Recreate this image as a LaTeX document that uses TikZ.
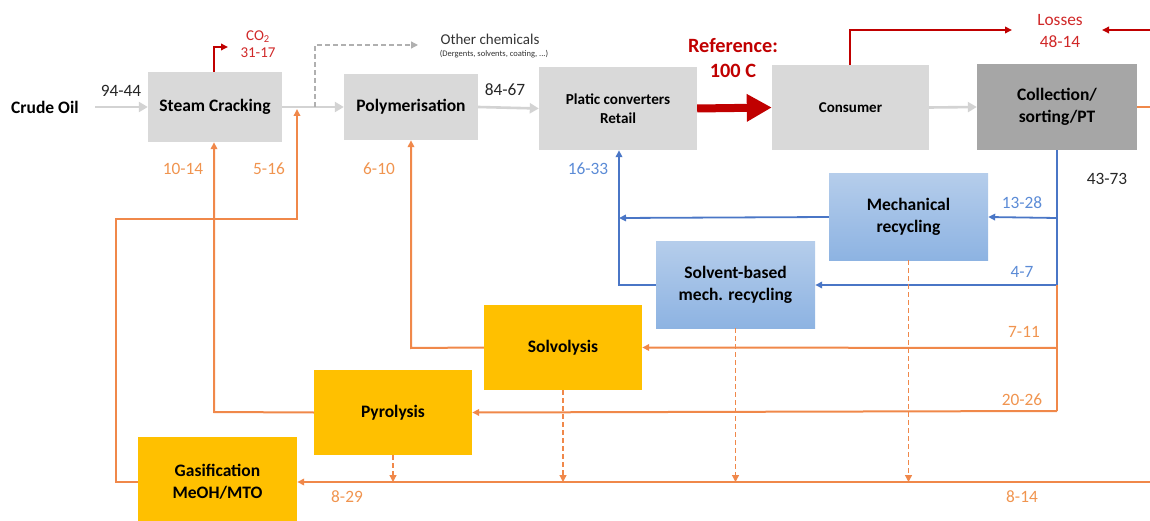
\documentclass[tikz,border=0pt]{standalone}
\usepackage{fontspec}
\setmainfont{Carlito}
\usetikzlibrary{arrows.meta}
\definecolor{boxgrey}{HTML}{D9D9D9}
\definecolor{darkgrey}{HTML}{A6A6A6}
\definecolor{yel}{HTML}{FFC000}
\definecolor{org}{HTML}{F0884A}
\definecolor{orgtxt}{HTML}{F0944F}
\definecolor{blu}{HTML}{4A76C6}
\definecolor{blutxt}{HTML}{5B8BD6}
\definecolor{redA}{HTML}{C00000}
\definecolor{lossred}{HTML}{D02828}
\definecolor{arrgrey}{HTML}{D3D3D3}
\definecolor{dashgrey}{HTML}{B0B0B0}
\definecolor{bluetop}{HTML}{B5CDEB}
\definecolor{bluebot}{HTML}{8DB3E2}
\tikzset{
  proc/.style={inner sep=0pt, align=center, font=\bfseries\fontsize{17.5}{22}\selectfont},
  greybox/.style={proc, fill=boxgrey},
  bluebox/.style={proc, top color=bluetop, bottom color=bluebot},
  yelbox/.style={proc, fill=yel},
  smalltip/.style={-{Triangle[length=7pt,width=6.5pt]}},
  gline/.style={draw=arrgrey, line width=2.6pt, -{Triangle[length=9pt,width=10pt]}},
  oline/.style={draw=org, line width=2pt},
  bline/.style={draw=blu, line width=1.8pt},
  rline/.style={draw=redA, line width=2pt},
  olab/.style={text=orgtxt, font=\fontsize{17.3}{20}\selectfont},
  blab/.style={text=blutxt, font=\fontsize{17.3}{20}\selectfont},
  klab/.style={text=black!85, font=\fontsize{17.3}{20}\selectfont},
  rlab/.style={text=lossred, font=\fontsize{17.3}{22}\selectfont, align=center},
}
\begin{document}
\begin{tikzpicture}[x=1pt,y=-1pt]
\useasboundingbox (0,0) rectangle (1150,521);
% boxes
\node[proc, anchor=west] (crude) at (11,107) {Crude Oil};
\node[greybox, minimum width=134pt, minimum height=70pt] (sc) at (215,107) {Steam Cracking};
\node[greybox, minimum width=134pt, minimum height=66pt] (poly) at (411,107) {Polymerisation};
\node[greybox, minimum width=158pt, minimum height=83pt, font=\bfseries\fontsize{15.2}{19}\selectfont] (plat) at (618,108.5) {Platic converters\\Retail};
\node[greybox, minimum width=157pt, minimum height=85pt, font=\bfseries\fontsize{15}{18}\selectfont] (cons) at (850.5,107.5) {Consumer};
\node[proc, fill=darkgrey, minimum width=160pt, minimum height=86pt] (coll) at (1057,107) {Collection/\\sorting/PT};
\node[bluebox, minimum width=159pt, minimum height=86pt] (mech) at (908.5,217) {Mechanical\\recycling};
\node[bluebox, minimum width=159pt, minimum height=86pt] (solv) at (735.5,285) {Solvent-based\\mech. recycling};
\node[yelbox, minimum width=158pt, minimum height=85pt] (solvo) at (563,347.5) {Solvolysis};
\node[yelbox, minimum width=158pt, minimum height=85pt] (pyro) at (393,412.5) {Pyrolysis};
\node[yelbox, minimum width=159pt, minimum height=90pt] (gas) at (217.5,482) {Gasification\\MeOH/MTO};
% coordinates
\coordinate (cstart) at (95,107);
\coordinate (branch) at (315,107);
\coordinate (bup) at (315,45);
\coordinate (oc) at (418,45);
\coordinate (co2a) at (214,47);
\coordinate (co2b) at (228,47);
\coordinate (lossa) at (850,30);
\coordinate (lossb) at (1012,30);
\coordinate (lossr) at (1150,30);
\coordinate (lossc) at (1102,30);
\coordinate (oright) at (1150,107);
\coordinate (bmid) at (1057,218);
\coordinate (bbot) at (1057,285);
\coordinate (ymech) at (619,218);
\coordinate (ysolv) at (619,285);
\coordinate (omid) at (1057,348);
\coordinate (obot) at (1057,411);
\coordinate (solvoL) at (411,348);
\coordinate (pyroL) at (214,412);
\coordinate (gasR) at (1150,482);
\coordinate (gasL) at (116,482);
\coordinate (gasU) at (116,219);
\coordinate (gasUR) at (297,219);
\coordinate (gasTop) at (297,109);
% grey flow
\draw[gline] (cstart) -- (sc.west);
\draw[gline] (sc.east) -- (poly.west);
\draw[draw=dashgrey, line width=1.3pt, dash pattern=on 5pt off 3pt, -{Triangle[length=7pt,width=7pt]}] (branch) -- (bup) -- (oc);
\draw[gline] (poly.east) -- (plat.west);
\draw[draw=redA, line width=8pt, -{Triangle[length=25pt,width=26pt]}] (plat.east) -- (cons.west);
\draw[gline] (cons.east) -- (coll.west);
% red
\draw[rline, smalltip] (sc.north -| co2a) -- (co2a) -- (co2b);
\draw[rline, smalltip] (cons.north -| lossa) -- (lossa) -- (lossb);
\draw[rline, smalltip] (lossr) -- (lossc);
% orange out of collection
\draw[oline] (coll.east) -- (oright);
% blue
\draw[bline] (coll.south) -- (bbot);
\draw[bline, smalltip] (bmid) -- (mech.east);
\draw[bline, smalltip] (mech.west) -- (ymech);
\draw[bline, smalltip] (bbot) -- (solv.east);
\draw[bline, smalltip] (solv.west) -- (ysolv) -- (plat.south -| ysolv);
% orange
\draw[oline] (bbot) -- (obot);
\draw[oline, smalltip] (omid) -- (solvo.east);
\draw[oline, smalltip] (obot) -- (pyro.east);
\draw[oline, smalltip] (solvo.west) -- (solvoL) -- (poly.south -| solvoL);
\draw[oline, smalltip] (pyro.west) -- (pyroL) -- (sc.south -| pyroL);
\draw[oline, smalltip] (gasR) -- (gas.east);
\draw[oline, smalltip] (gas.west) -- (gasL) -- (gasU) -- (gasUR) -- (gasTop);
% dashed orange
\foreach \n in {pyro,solvo,solv,mech}{
  \draw[draw=org, line width=1.3pt, dash pattern=on 5pt off 3pt, -{Triangle[length=7pt,width=7pt]}] (\n.south) -- (\n.south |- gasR);
}
% labels
\node[klab] (l1) at (121,91) {94-44};
\node[klab] (l2) at (505,90) {84-67};
\node[klab] (l3) at (1107,179) {43-73};
\node[rlab, font=\fontsize{15}{17.5}\selectfont] (co2l) at (258,44) {CO\textsubscript{2}\\31-17};
\node[text=black!80, font=\fontsize{15}{17}\selectfont] (oth) at (490,39) {Other chemicals};
\node[text=black!80, font=\fontsize{8.5}{10}\selectfont] (oths) at (494,54) {(Dergents, solvents, coating, ...)};
\node[text=redA, font=\bfseries\fontsize{20.3}{25}\selectfont, align=center] (ref) at (733,58) {Reference:\\100 C};
\node[rlab] (loss) at (1060,31) {Losses\\48-14};
\node[blab] (b1) at (1022,203) {13-28};
\node[blab] (b2) at (1022,272) {4-7};
\node[blab] (b3) at (588,169) {16-33};
\node[olab] (o1) at (1024,332) {7-11};
\node[olab] (o2) at (1022,400) {20-26};
\node[olab] (o3) at (379,169) {6-10};
\node[olab] (o4) at (183,169) {10-14};
\node[olab] (o5) at (269,169) {5-16};
\node[olab] (o6) at (347,497) {8-29};
\node[olab] (o7) at (1022,497) {8-14};
\end{tikzpicture}
\end{document}
